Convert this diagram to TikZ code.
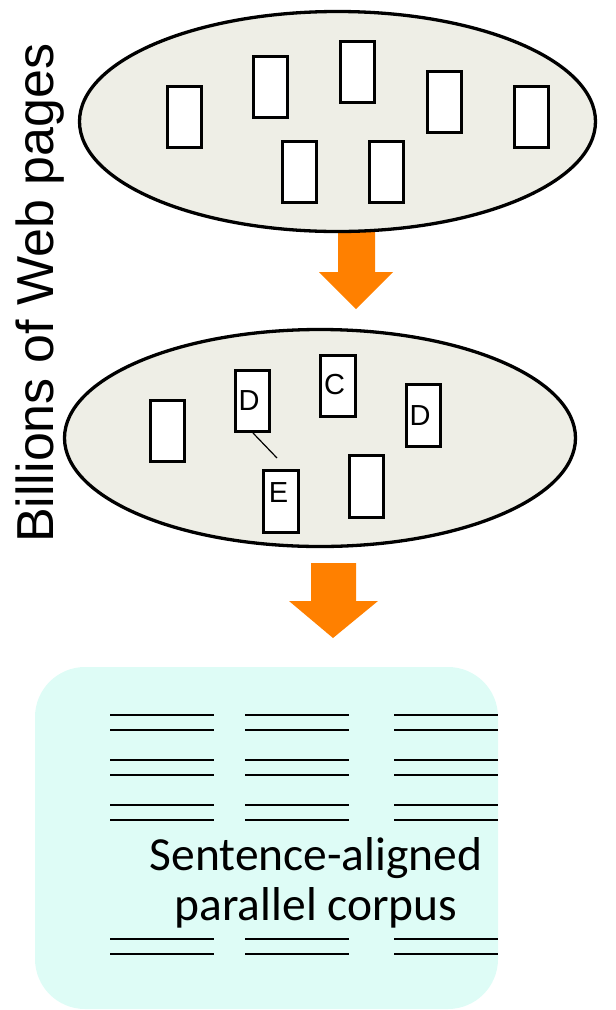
\documentclass[tikz,border=0pt]{standalone}
\usepackage{fontspec}
\setmainfont{Liberation Sans}
\newfontfamily\calib{Carlito}
\usetikzlibrary{shapes.geometric}
\definecolor{ellfill}{HTML}{EEEEE6}
\definecolor{boxfill}{HTML}{DEFCF6}
\definecolor{arrorange}{HTML}{FF8000}
\tikzset{
  cloud/.style={draw, ellipse, line width=3.3pt, fill=ellfill, inner sep=0pt},
  page/.style={draw, rectangle, line width=2.6pt, fill=white, minimum width=34.5pt, minimum height=61.5pt, inner sep=0pt},
  letter/.style={anchor=base, inner sep=0pt, font=\fontsize{29}{32}\selectfont},
  bigarrow/.style={fill=arrorange},
  corpusline/.style={line width=1.7pt},
  corpustext/.style={anchor=base, inner sep=0pt, font=\calib\fontsize{47.5}{50}\selectfont}
}
\begin{document}
\begin{tikzpicture}[x=1pt,y=-1pt]
\useasboundingbox (0,0) rectangle (616,1010);
% arrow 1 (behind ellipse)
\fill[bigarrow] (338,226) -- (375,226) -- (375,272) -- (393,272) -- (356,309) -- (319,272) -- (338,272) -- cycle;
% top ellipse
\node[cloud, minimum width=516pt, minimum height=220pt] (web) at (337.5,121.5) {};
\node[page] (t1) at (184.5,117) {};
\node[page] (t2) at (270.5,87) {};
\node[page] (t3) at (357.5,72) {};
\node[page] (t4) at (444.5,102) {};
\node[page] (t5) at (531.5,117) {};
\node[page] (t6) at (299.5,172) {};
\node[page] (t7) at (386.5,172) {};
% vertical label
\node[rotate=90, anchor=base west, inner sep=0pt, font=\fontsize{52}{56}\selectfont] (lbl) at (53,543) {Billions of Web pages};
% second ellipse
\node[cloud, minimum width=511pt, minimum height=217pt] (cand) at (320,438) {};
\node[page] (m1) at (167.5,431) {};
\node[page] (m2) at (252.5,401) {};
\node[page] (m3) at (338,386) {};
\node[page] (m4) at (423.5,415.5) {};
\node[page] (m5) at (281,501.5) {};
\node[page] (m6) at (366.5,486.5) {};
\node[letter] (lD1) at (249,410) {D};
\node[letter] (lC) at (334.5,394) {C};
\node[letter] (lD2) at (420,425) {D};
\node[letter] (lE) at (278.5,502) {E};
\coordinate (dstart) at (253,433);
\coordinate (dlink) at (277,458);
\draw[line width=1.2pt] (dstart) -- (dlink);
% arrow 2
\fill[bigarrow] (311,563) -- (356,563) -- (356,601) -- (378,601) -- (333,638) -- (289,601) -- (311,601) -- cycle;
% corpus box
\node[draw=none, fill=boxfill, rounded corners=50pt, minimum width=463pt, minimum height=342pt, inner sep=0pt] (corpus) at (266.5,838) {};
\foreach \y in {715,730,760,775,805,820,939,954}{
  \draw[corpusline] (110,\y) -- (214,\y);
  \draw[corpusline] (245,\y) -- (349,\y);
  \draw[corpusline] (394,\y) -- (498,\y);
}
\node[corpustext] (txt1) at (316,870) {Sentence-aligned};
\node[corpustext] (txt2) at (316,920) {parallel corpus};
\end{tikzpicture}
\end{document}
